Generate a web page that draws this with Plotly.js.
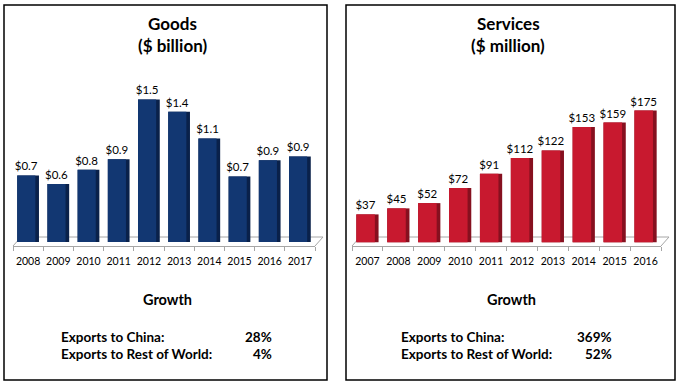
<!DOCTYPE html>
<html>
<head>
<meta charset="utf-8">
<script src="https://cdn.plot.ly/plotly-3.0.1.min.js"></script>
<style>html,body{margin:0;padding:0;background:#fff;}#chart{width:682px;height:385px;}</style>
</head>
<body>
<div id="chart"></div>
<script>
// ---- data ----
const goodsYears = ['2008','2009','2010','2011','2012','2013','2014','2015','2016','2017'];
const goodsValues = [0.70, 0.61, 0.76, 0.87, 1.50, 1.37, 1.09, 0.69, 0.86, 0.90];
const servicesYears = ['2007','2008','2009','2010','2011','2012','2013','2014','2015','2016'];
const servicesValues = [37, 45, 52, 72, 91, 112, 122, 153, 159, 175];
const goodsTitle = ['Goods', '($ billion)'];
const servicesTitle = ['Services', '($ million)'];
const growthLabels = ['Exports to China:', 'Exports to Rest of World:'];
const goodsGrowth = ['28%', '4%'];
const servicesGrowth = ['369%', '52%'];

// ---- layout helpers ----
const W = 682, H = 385;
const px = x => x / W;
const py = y => 1 - y / H;
const FONT = 'Lato, "Open Sans", sans-serif';

const navy = '#123772', navySide = '#0a214a';
const red = '#C8192F', redSide = '#86101F';

function barPair(x, y, front, side, xa, ya, fmt) {
  return [
    {type: 'bar', x: x, y: y, xaxis: xa, yaxis: ya, width: 0.72, offset: -0.36,
     marker: {color: side}, hoverinfo: 'skip', showlegend: false},
    {type: 'bar', x: x, y: y, xaxis: xa, yaxis: ya, width: 0.6, offset: -0.36,
     marker: {color: front}, texttemplate: fmt, textposition: 'outside', cliponaxis: false,
     constraintext: 'none',
     textfont: {family: FONT, size: 11.5, color: '#000'}, showlegend: false}
  ];
}

const data = [
  ...barPair(goodsYears, goodsValues, navy, navySide, 'x', 'y', '$%{y:.1f}'),
  ...barPair(servicesYears, servicesValues, red, redSide, 'x2', 'y2', '$%{y:.0f}')
];

function xaxisDef(l, r, anchor) {
  return {domain: [px(l), px(r)], anchor: anchor, type: 'category', showgrid: false,
    showline: true, linecolor: '#A6A6A6', linewidth: 1, ticks: 'outside', tickson: 'boundaries',
    ticklen: 4, tickcolor: '#A6A6A6', tickangle: 0, ticklabelstandoff: 5,
    tickfont: {family: FONT, size: 10.5, color: '#000'},
    fixedrange: true, zeroline: false};
}
function yaxisDef(range, anchor) {
  return {domain: [py(246), py(88)], anchor: anchor, range: range, visible: false,
    showgrid: false, zeroline: false, fixedrange: true};
}

function floor(l, r) {
  const d = 8, t = 9;
  return {type: 'path', xref: 'paper', yref: 'paper',
    path: `M ${px(l)} ${py(246)} L ${px(l + d)} ${py(246 - t)} L ${px(r + d)} ${py(246 - t)} L ${px(r)} ${py(246)}`,
    line: {color: '#A6A6A6', width: 1}, layer: 'below'};
}
function box(l, r) {
  return {type: 'rect', xref: 'paper', yref: 'paper', x0: px(l), x1: px(r), y0: py(380), y1: py(5),
    line: {color: '#000', width: 1.5}};
}

function textAnn(text, x, y, size, bold, anchor) {
  return {xref: 'paper', yref: 'paper', x: px(x), y: py(y), text: bold ? '<b>' + text + '</b>' : text,
    showarrow: false, xanchor: anchor || 'center', yanchor: 'middle',
    font: {family: FONT, size: size, color: '#000'}};
}

const annotations = [
  textAnn(goodsTitle[0], 172, 23, 17, true),
  textAnn(goodsTitle[1], 172, 45, 17, true),
  textAnn(servicesTitle[0], 508, 23, 17, true),
  textAnn(servicesTitle[1], 508, 45, 17, true),
  textAnn('Growth', 167, 299, 14.5, true),
  textAnn('Growth', 511, 299, 14.5, true),
  textAnn(growthLabels[0], 59, 337, 13.5, true, 'left'),
  textAnn(growthLabels[1], 59, 354, 13.5, true, 'left'),
  textAnn(goodsGrowth[0], 274, 337, 13.5, true, 'right'),
  textAnn(goodsGrowth[1], 274, 354, 13.5, true, 'right'),
  textAnn(growthLabels[0], 399, 337, 13.5, true, 'left'),
  textAnn(growthLabels[1], 399, 354, 13.5, true, 'left'),
  textAnn(servicesGrowth[0], 614, 337, 13.5, true, 'right'),
  textAnn(servicesGrowth[1], 614, 354, 13.5, true, 'right')
];

const layout = {
  width: W, height: H, margin: {l: 0, r: 0, t: 0, b: 0},
  paper_bgcolor: '#fff', plot_bgcolor: 'rgba(0,0,0,0)',
  barmode: 'overlay', showlegend: false,
  xaxis: xaxisDef(13, 315, 'y'),
  yaxis: yaxisDef([-0.042, 1.62], 'x'),
  xaxis2: xaxisDef(352, 661, 'y2'),
  yaxis2: yaxisDef([-5, 205], 'x2'),
  shapes: [floor(13, 315), floor(352, 661), box(4, 327), box(346, 675)],
  annotations: annotations
};

Plotly.newPlot('chart', data, layout, {displayModeBar: false, staticPlot: true});
</script>
</body>
</html>
